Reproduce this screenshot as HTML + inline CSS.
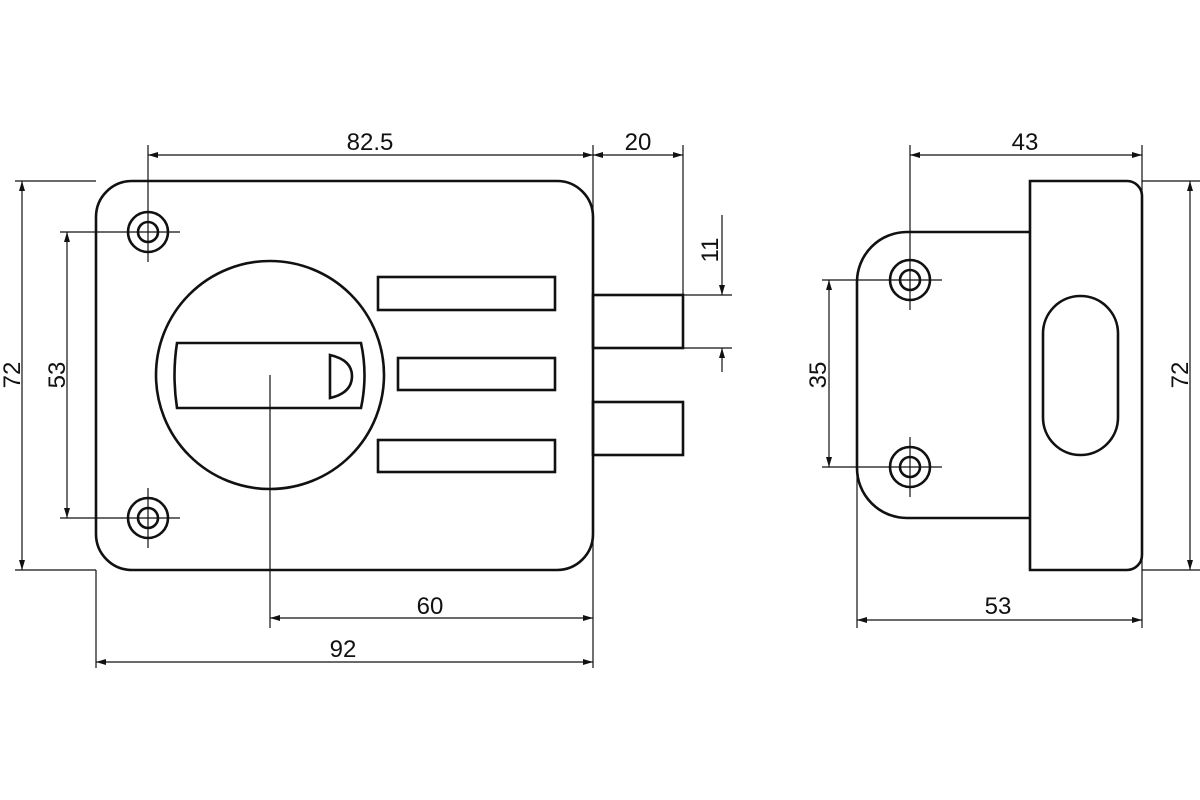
<!DOCTYPE html>
<html><head><meta charset="utf-8"><style>body{margin:0;background:#fff}svg{display:block}</style></head><body>
<svg width="1200" height="800" viewBox="0 0 1200 800" xmlns="http://www.w3.org/2000/svg">
<defs>
<marker id="a" viewBox="0 0 10 6" refX="10" refY="3" markerWidth="10" markerHeight="6" orient="auto-start-reverse" markerUnits="userSpaceOnUse"><path d="M0,0 L10,3 L0,6 Z" fill="#111"/></marker>
</defs>
<g fill="none" stroke="#111" stroke-width="2.6">
<rect x="96" y="181" width="497" height="389" rx="36"/>
<circle cx="148" cy="232" r="20"/><circle cx="148" cy="232" r="10"/>
<circle cx="148" cy="518" r="20"/><circle cx="148" cy="518" r="10"/>
<circle cx="270" cy="375" r="114"/>
<path d="M177,343 L361,343 Q368,375 361,408 L177,408 Q172,375 177,343 Z"/>
<path d="M330,355 Q352,360 352,376 Q352,393 330,398 Z"/>
<rect x="378" y="277" width="177" height="33"/>
<rect x="398" y="358" width="157" height="32"/>
<rect x="378" y="440" width="177" height="32"/>
<rect x="593" y="295" width="90" height="53"/>
<rect x="593" y="402" width="90" height="53"/>
<path d="M1030,232 L907,232 A50,50 0 0 0 857,282 L857,468 A50,50 0 0 0 907,518 L1030,518"/>
<path d="M1030,181 L1127,181 A15,15 0 0 1 1142,196 L1142,555 A15,15 0 0 1 1127,570 L1030,570 Z"/>
<rect x="1043" y="296" width="75" height="159" rx="37.5"/>
<circle cx="910" cy="280" r="20"/><circle cx="910" cy="280" r="10"/>
<circle cx="910" cy="467" r="20"/><circle cx="910" cy="467" r="10"/>
</g>
<g fill="none" stroke="#111" stroke-width="1.2">
<line x1="148" y1="145" x2="148" y2="262"/><line x1="118" y1="232" x2="180" y2="232"/>
<line x1="148" y1="488" x2="148" y2="548"/><line x1="118" y1="518" x2="180" y2="518"/>
<line x1="270" y1="375" x2="270" y2="628"/>
<line x1="593" y1="145" x2="593" y2="668"/>
<line x1="683" y1="145" x2="683" y2="295"/>
<line x1="96" y1="570" x2="96" y2="668"/>
<line x1="15" y1="181" x2="96" y2="181"/><line x1="15" y1="570" x2="96" y2="570"/>
<line x1="60" y1="232" x2="118" y2="232"/><line x1="60" y1="518" x2="118" y2="518"/>
<line x1="683" y1="295" x2="732" y2="295"/><line x1="683" y1="348" x2="732" y2="348"/>
<line x1="148" y1="155" x2="593" y2="155" marker-start="url(#a)" marker-end="url(#a)"/>
<line x1="593" y1="155" x2="683" y2="155" marker-start="url(#a)" marker-end="url(#a)"/>
<line x1="22" y1="181" x2="22" y2="570" marker-start="url(#a)" marker-end="url(#a)"/>
<line x1="67" y1="232" x2="67" y2="518" marker-start="url(#a)" marker-end="url(#a)"/>
<line x1="270" y1="618" x2="593" y2="618" marker-start="url(#a)" marker-end="url(#a)"/>
<line x1="96" y1="662" x2="593" y2="662" marker-start="url(#a)" marker-end="url(#a)"/>
<line x1="722" y1="215" x2="722" y2="295" marker-end="url(#a)"/>
<line x1="722" y1="372" x2="722" y2="348" marker-end="url(#a)"/>
<line x1="910" y1="145" x2="910" y2="310"/><line x1="880" y1="280" x2="942" y2="280"/>
<line x1="910" y1="437" x2="910" y2="497"/><line x1="880" y1="467" x2="942" y2="467"/>
<line x1="1142" y1="145" x2="1142" y2="628"/>
<line x1="1142" y1="181" x2="1200" y2="181"/><line x1="1142" y1="570" x2="1200" y2="570"/>
<line x1="822" y1="280" x2="880" y2="280"/><line x1="822" y1="467" x2="880" y2="467"/>
<line x1="857" y1="468" x2="857" y2="628"/>
<line x1="910" y1="155" x2="1142" y2="155" marker-start="url(#a)" marker-end="url(#a)"/>
<line x1="1190" y1="181" x2="1190" y2="570" marker-start="url(#a)" marker-end="url(#a)"/>
<line x1="829" y1="280" x2="829" y2="467" marker-start="url(#a)" marker-end="url(#a)"/>
<line x1="857" y1="620" x2="1142" y2="620" marker-start="url(#a)" marker-end="url(#a)"/>
</g>
<g font-family="Liberation Sans, sans-serif" font-size="24" fill="#111" text-anchor="middle">
<text x="370" y="150">82.5</text>
<text x="638" y="150">20</text>
<text x="430" y="614">60</text>
<text x="343" y="657">92</text>
<text x="1025" y="150">43</text>
<text x="998" y="614">53</text>
<text transform="translate(20,375) rotate(-90)">72</text>
<text transform="translate(65,375) rotate(-90)">53</text>
<text transform="translate(718,250) rotate(-90)">11</text>
<text transform="translate(826,375) rotate(-90)">35</text>
<text transform="translate(1188,375) rotate(-90)">72</text>
</g>
</svg>
</body></html>
